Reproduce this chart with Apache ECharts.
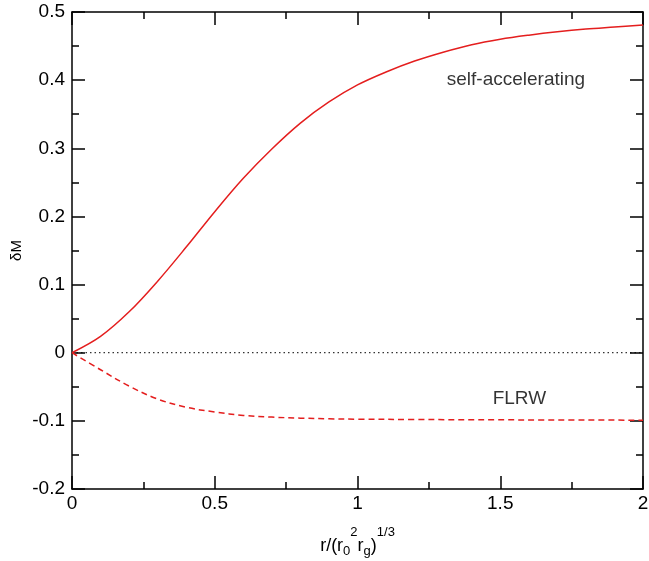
<!DOCTYPE html>
<html>
<head>
<meta charset="utf-8">
<script src="https://cdn.jsdelivr.net/npm/echarts@6/dist/echarts.min.js"></script>
<style>html,body{margin:0;padding:0;background:#fff;}#c{width:649px;height:561px;}</style>
</head>
<body>
<div id="c"></div>
<script>
const selfAccX = [0, 0.1, 0.2, 0.3, 0.4, 0.5, 0.6, 0.7, 0.8, 0.9, 1.0, 1.1, 1.2, 1.3, 1.4, 1.5, 1.6, 1.7, 1.8, 1.9, 2.0];
const selfAccY = [0, 0.024, 0.060, 0.105, 0.155, 0.207, 0.256, 0.299, 0.337, 0.368, 0.393, 0.412, 0.428, 0.441, 0.452, 0.460, 0.466, 0.471, 0.475, 0.478, 0.481];
const flrwX = [0, 0.1, 0.2, 0.3, 0.4, 0.5, 0.6, 0.7, 0.8, 0.9, 1.0, 1.2, 1.5, 2.0];
const flrwY = [0, -0.025, -0.049, -0.068, -0.080, -0.087, -0.092, -0.0945, -0.096, -0.097, -0.0975, -0.098, -0.0985, -0.099];
const zeroX = [0, 2];
const zeroY = [0, 0];
const labels = [
  {text: 'self-accelerating', x: 1.555, y: 0.400},
  {text: 'FLRW', x: 1.567, y: -0.068}
];

const RED = '#e41e1e';
const FONT = 'Liberation Sans, Arial, Helvetica, sans-serif';
const zip = (a, b) => a.map((v, i) => [v, b[i]]);

const chart = echarts.init(document.getElementById('c'), null, {renderer: 'canvas'});

const axisCommon = {
  axisLine: {show: true, onZero: false, lineStyle: {color: '#000', width: 1.5}},
  axisTick: {show: true, inside: true, length: 13, lineStyle: {color: '#000', width: 1.5}},
  minorTick: {show: true, splitNumber: 2, length: 7, lineStyle: {color: '#000', width: 1.5}},
  splitLine: {show: false},
  minorSplitLine: {show: false}
};

chart.setOption({
  animation: false,
  backgroundColor: '#fff',
  grid: {left: 72, right: 6, top: 12, bottom: 72, containLabel: false, outerBoundsMode: 'none'},
  xAxis: [
    Object.assign({}, axisCommon, {
      type: 'value', min: 0, max: 2, interval: 0.5, position: 'bottom',
      axisLabel: {color: '#000', fontSize: 19, fontFamily: FONT, margin: 5,
        formatter: v => String(v)},
      name: '{n|r/(r}{sub|0}{sup|2}{n|r}{sub|g}{n|)}{sup|1/3}',
      nameLocation: 'middle', nameGap: 37, nameMoveOverlap: false,
      nameTextStyle: {
        color: '#000', fontFamily: FONT,
        rich: {
          n: {fontSize: 18, fontFamily: FONT, color: '#000'},
          sub: {fontSize: 13, fontFamily: FONT, color: '#000', padding: [10, 0, 0, 0]},
          sup: {fontSize: 13, fontFamily: FONT, color: '#000', padding: [0, 0, 28, 0]}
        }
      }
    }),
    Object.assign({}, axisCommon, {
      type: 'value', min: 0, max: 2, interval: 0.5, position: 'top',
      axisLabel: {show: false}
    })
  ],
  yAxis: [
    Object.assign({}, axisCommon, {
      type: 'value', min: -0.2, max: 0.5, interval: 0.1, position: 'left',
      axisLabel: {color: '#000', fontSize: 19, fontFamily: FONT, margin: 7,
        formatter: v => String(Math.round(v * 10) / 10)},
      name: 'δM', nameLocation: 'middle', nameGap: 48, nameRotate: 90, nameMoveOverlap: false,
      nameTextStyle: {color: '#000', fontSize: 15, fontFamily: FONT}
    }),
    Object.assign({}, axisCommon, {
      type: 'value', min: -0.2, max: 0.5, interval: 0.1, position: 'right',
      axisLabel: {show: false}
    })
  ],
  series: [
    {
      type: 'line', data: zip(zeroX, zeroY), showSymbol: false, symbol: 'none',
      lineStyle: {color: '#000', width: 1, type: [1.5, 3]}, silent: true, z: 1
    },
    {
      type: 'line', data: zip(selfAccX, selfAccY), smooth: 0.35, showSymbol: false, symbol: 'none',
      lineStyle: {color: RED, width: 1.5}, z: 2
    },
    {
      type: 'line', data: zip(flrwX, flrwY), smooth: 0.35, showSymbol: false, symbol: 'none',
      lineStyle: {color: RED, width: 1.5, type: [6, 4]}, z: 2
    },
    {
      type: 'scatter', data: labels.map(l => ({value: [l.x, l.y], name: l.text})),
      symbolSize: 0, silent: true,
      label: {show: true, position: 'inside', formatter: p => p.name,
        color: '#000', fontSize: 19, fontFamily: FONT}
    }
  ]
});
</script>
</body>
</html>
